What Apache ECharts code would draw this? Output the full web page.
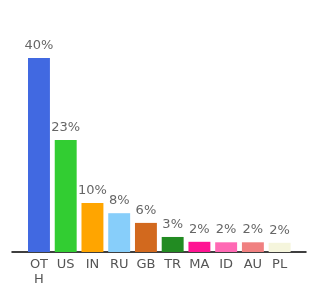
<!DOCTYPE html>
<html><head><meta charset="utf-8">
<script src="https://cdn.jsdelivr.net/npm/echarts@6/dist/echarts.min.js"></script>
<style>html,body{margin:0;padding:0;background:#fff}#c{width:320px;height:300px}</style>
</head><body><div id="c"></div>
<script>
var categories = ['OTH','US','IN','RU','GB','TR','MA','ID','AU','PL'];
var values = [40.0, 23.1, 10.1, 8.0, 6.0, 3.1, 2.1, 2.0, 2.0, 1.9];
var colors = ['#4169E1','#32CD32','#FFA500','#87CEFA','#D2691E','#228B22','#FF1493','#FF69B4','#F08080','#F5F5DC'];

var chart = echarts.init(document.getElementById('c'), null, {renderer:'canvas'});
chart.setOption({
  animation: false,
  grid: [
    {left: 12, right: 14, top: 58, bottom: 48},
    {left: 25.6, right: 27, top: 58, bottom: 48}
  ],
  xAxis: [
    {gridIndex: 0, type: 'category', data: [''], axisLine: {show: true, lineStyle: {color: '#000', width: 1.5}}, axisTick: {show: false}, axisLabel: {show: false}},
    {gridIndex: 1, type: 'category', data: categories, axisLine: {show: false}, axisTick: {show: false},
     axisLabel: {interval: 0, color: '#555', fontSize: 13, fontFamily: 'DejaVu Sans', width: 22, overflow: 'breakAll', margin: 5, lineHeight: 15}}
  ],
  yAxis: [
    {gridIndex: 0, type: 'value', min: 0, max: 40, show: false},
    {gridIndex: 1, type: 'value', min: 0, max: 40, show: false}
  ],
  series: [{
    type: 'bar', xAxisIndex: 1, yAxisIndex: 1,
    barCategoryGap: '18%',
    data: values.map(function(v, i){ return {value: v, itemStyle: {color: colors[i]}}; }),
    label: {show: true, position: 'top', distance: 6, color: '#666', fontSize: 13, fontFamily: 'DejaVu Sans',
      formatter: function(p){ return Math.round(p.value) + '%'; }}
  }]
});
</script></body></html>
